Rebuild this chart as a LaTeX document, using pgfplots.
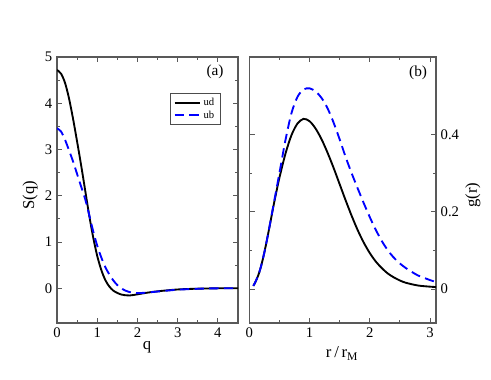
\documentclass[border=0pt]{standalone}
\usepackage{fontspec}
\setmainfont{Liberation Serif}
\usepackage{pgfplots}
\pgfplotsset{compat=1.18}
\begin{document}
\begin{tikzpicture}
\useasboundingbox (0pt,0pt) rectangle (368.25pt,284.25pt);
\pgfplotsset{
 every axis/.append style={
  scale only axis,
  axis line style={line width=0.9pt, black!65},
  every tick/.style={black!65, line width=0.7pt},
  major tick length=4pt, minor tick length=2.3pt,
  tick label style={font=\fontsize{11}{13}\selectfont},
  label style={font=\fontsize{12.5}{14}\selectfont},
  /pgf/number format/assume math mode=true,
 },
 udstyle/.style={black, line width=1.4pt, smooth},
 ubstyle/.style={blue, line width=1.4pt, dash pattern=on 7pt off 4pt, smooth},
}
\begin{axis}[at={(42.75pt,42pt)}, anchor=south west, width=135.75pt, height=199.5pt,
  xmin=0, xmax=4.5, ymin=-0.75, ymax=5,
  xtick={0,1,2,3,4}, ytick={0,1,2,3,4,5},
  minor x tick num=1, minor y tick num=1,
  xlabel={q}, ylabel={S(q)},
  xlabel style={at={(axis description cs:0.497,-0.09)}, anchor=center},
  ylabel style={at={(axis description cs:-0.149,0.48)}, anchor=center},
  legend style={at={(0.624,0.865)}, anchor=north west, font=\fontsize{8}{9}\selectfont,
    draw=black!70, inner xsep=2.5pt, inner ysep=1.5pt, row sep=-1.5pt, line width=0.6pt},
  legend cell align=left,
  legend image code/.code={\draw[#1] (0pt,0pt) -- (19pt,0pt);},
]
\addplot[udstyle] table {
0 4.72
0.1 4.64
0.2 4.44
0.3 4.10
0.4 3.66
0.5 3.17
0.6 2.66
0.7 2.12
0.8 1.58
0.9 1.10
1.0 0.70
1.1 0.40
1.2 0.18
1.3 0.04
1.4 -0.05
1.5 -0.10
1.6 -0.135
1.7 -0.15
1.8 -0.155
1.9 -0.145
2.0 -0.13
2.2 -0.10
2.5 -0.065
3.0 -0.025
3.5 -0.008
4.0 0
4.5 0
};
\addlegendentry{ud}
\addplot[ubstyle] table {
0 3.46
0.1 3.39
0.2 3.21
0.3 2.98
0.4 2.74
0.5 2.47
0.6 2.20
0.7 1.93
0.8 1.59
0.9 1.23
1.0 0.92
1.1 0.67
1.2 0.46
1.3 0.30
1.4 0.17
1.5 0.07
1.6 0.00
1.7 -0.05
1.8 -0.08
1.9 -0.10
2.0 -0.105
2.2 -0.095
2.5 -0.07
3.0 -0.03
3.5 -0.01
4.0 0
4.5 0
};
\addlegendentry{ub}
\node[font=\fontsize{11.5}{13}\selectfont] at (axis description cs:0.873,0.944) {(a)};
\end{axis}
\begin{axis}[at={(187pt,42pt)}, anchor=south west, width=140pt, height=199.5pt,
  xmin=0, xmax=3.1, ymin=-0.088, ymax=0.6,
  xtick={0,1,2,3}, ytick={0,0.2,0.4},
  minor x tick num=1, minor y tick num=1,
  yticklabel pos=right, ytick pos=both,
  xlabel={r\,/\,r\textsubscript{M}}, ylabel={g(r)},
  xlabel style={at={(axis description cs:0.497,-0.115)}, anchor=center},
  ylabel style={at={(axis description cs:1.198,0.48)}, anchor=center, rotate=0},
]
\addplot[udstyle] table {
0.066 0.008
0.1 0.018
0.15 0.036
0.2 0.062
0.25 0.095
0.3 0.133
0.35 0.173
0.4 0.214
0.45 0.252
0.5 0.288
0.6 0.350
0.7 0.398
0.8 0.428
0.9 0.440
1.0 0.434
1.1 0.415
1.2 0.387
1.3 0.352
1.4 0.313
1.5 0.271
1.6 0.229
1.7 0.189
1.8 0.152
1.9 0.120
2.0 0.093
2.1 0.071
2.2 0.054
2.3 0.040
2.4 0.030
2.5 0.022
2.6 0.016
2.8 0.009
3.0 0.006
3.1 0.005
};
\addplot[ubstyle] table {
0.066 0.008
0.1 0.018
0.15 0.036
0.2 0.062
0.25 0.095
0.3 0.133
0.35 0.174
0.4 0.216
0.45 0.258
0.5 0.300
0.6 0.385
0.7 0.455
0.8 0.497
0.9 0.516
1.0 0.519
1.1 0.511
1.2 0.494
1.3 0.467
1.4 0.430
1.5 0.387
1.6 0.341
1.7 0.299
1.8 0.260
1.9 0.222
2.0 0.186
2.1 0.153
2.2 0.124
2.3 0.100
2.4 0.081
2.5 0.066
2.6 0.054
2.7 0.044
2.8 0.035
2.9 0.029
3.0 0.023
3.1 0.018
};
\node[font=\fontsize{11.5}{13}\selectfont] at (axis description cs:0.904,0.94) {(b)};
\end{axis}
\end{tikzpicture}
\end{document}
